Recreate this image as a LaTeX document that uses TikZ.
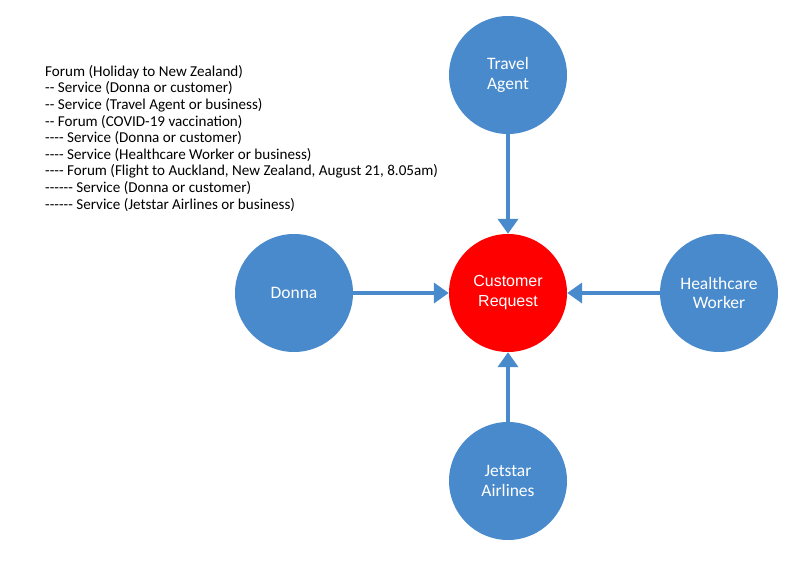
\documentclass[tikz,border=0pt]{standalone}
\usepackage{fontspec}
\newfontfamily\carlito[Ligatures=TeXOff]{Carlito}
\newfontfamily\arialfont{Liberation Sans}
\usetikzlibrary{arrows.meta}
\definecolor{bubbleblue}{RGB}{72,138,204}
\tikzset{
    bubble/.style={circle, fill=bubbleblue, minimum size=118pt, inner sep=0pt,
        text=white, align=center, font=\carlito\fontsize{17.5}{19.5}\selectfont},
    request/.style={bubble, fill=red, font=\arialfont\fontsize{16}{20}\selectfont},
    arrowline/.style={draw=bubbleblue, line width=4.5pt,
        -{Triangle[width=20pt,length=15pt]}}
}
\begin{document}
\begin{tikzpicture}[x=1pt, y=-1pt]
    \useasboundingbox[fill=white] (0,0) rectangle (800,561);

    % Hierarchy listing
    \node[anchor=north west, align=left, inner sep=0pt,
        font=\carlito\fontsize{15.1}{16.6}\selectfont] (listing) at (45,65) {%
        Forum (Holiday to New Zealand)\\
        -- Service (Donna or customer)\\
        -- Service (Travel Agent or business)\\
        -- Forum (COVID-19 vaccination)\\
        ---- Service (Donna or customer)\\
        ---- Service (Healthcare Worker or business)\\
        ---- Forum (Flight to Auckland, New Zealand, August 21, 8.05am)\\
        ------ Service (Donna or customer)\\
        ------ Service (Jetstar Airlines or business)};

    % Circles
    \node[request] (req) at (508,293) {Customer\\Request};
    \node[bubble] (travel) at (508,75) {Travel\\Agent};
    \node[bubble] (donna) at (294,293) {Donna};
    \node[bubble] (health) at (719,293) {Healthcare\\Worker};
    \node[bubble] (jetstar) at (508,481) {Jetstar\\Airlines};

    % Arrows towards the request
    \draw[arrowline] (travel) -- (req);
    \draw[arrowline] (donna) -- (req);
    \draw[arrowline] (health) -- (req);
    \draw[arrowline] (jetstar) -- (req);
\end{tikzpicture}
\end{document}
